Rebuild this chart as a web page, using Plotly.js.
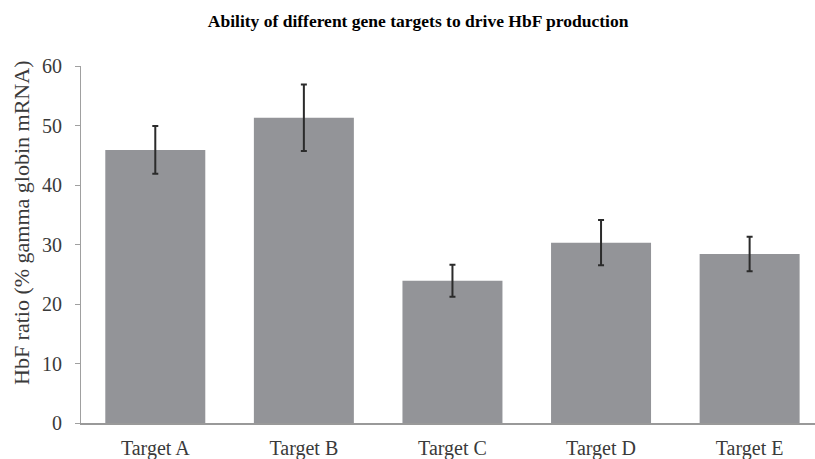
<!DOCTYPE html>
<html>
<head>
<meta charset="utf-8">
<script src="https://cdn.plot.ly/plotly-3.0.1.min.js"></script>
<style>html,body{margin:0;padding:0;background:#fff}#chart{width:815px;height:459px}</style>
</head>
<body>
<div id="chart"></div>
<script>
const categories = ["Target A", "Target B", "Target C", "Target D", "Target E"];
const hbfValues = [45.9, 51.3, 23.9, 30.3, 28.4];
const errorValues = [4.0, 5.6, 2.7, 3.8, 2.9];
const yTickValues = [0, 10, 20, 30, 40, 50, 60];
const yTitle = "HbF ratio (% gamma globin mRNA)";

const SERIF = "Liberation Serif";

const trace = {
  type: "bar",
  x: categories,
  y: hbfValues,
  marker: {color: "#939498"},
  error_y: {type: "data", array: errorValues, visible: true, color: "#2b2b2b", thickness: 2, width: 3},
  hoverinfo: "x+y"
};

const layout = {
  width: 815, height: 459,
  font: {family: SERIF},
  margin: {l: 81, r: 0, t: 66, b: 36, pad: 0},
  paper_bgcolor: "#fff", plot_bgcolor: "#fff",
  bargap: 0.327,
  showlegend: false,
  title: {
    text: "<b>Ability of different gene targets to drive HbF production</b>",
    font: {family: SERIF, size: 17.5, color: "#000"},
    x: 0.513, xanchor: "center", y: 0.955, yanchor: "middle"
  },
  xaxis: {
    type: "category",
    range: [-0.5, 4.44],
    showline: true, linecolor: "#999", linewidth: 1.5,
    ticks: "", showgrid: false, zeroline: false,
    tickfont: {family: SERIF, size: 20, color: "#3a3a3a"},
    ticklabelstandoff: 6
  },
  yaxis: {
    range: [0, 60],
    tickvals: yTickValues,
    showline: true, linecolor: "#a0a0a0", linewidth: 1,
    ticks: "outside", ticklen: 5, tickcolor: "#a0a0a0",
    showgrid: false, zeroline: false,
    tickfont: {family: SERIF, size: 20, color: "#3a3a3a"},
    ticklabelstandoff: 9
  },
  annotations: [{
    text: yTitle, textangle: -90,
    xref: "paper", yref: "paper",
    x: -81/734, xanchor: "left", xshift: 7,
    y: (423 - 223.5) / 357, yanchor: "middle",
    showarrow: false,
    font: {family: SERIF, size: 22, color: "#3a3a3a"}
  }]
};

Plotly.newPlot("chart", [trace], layout, {displayModeBar: false, staticPlot: true});
</script>
</body>
</html>
